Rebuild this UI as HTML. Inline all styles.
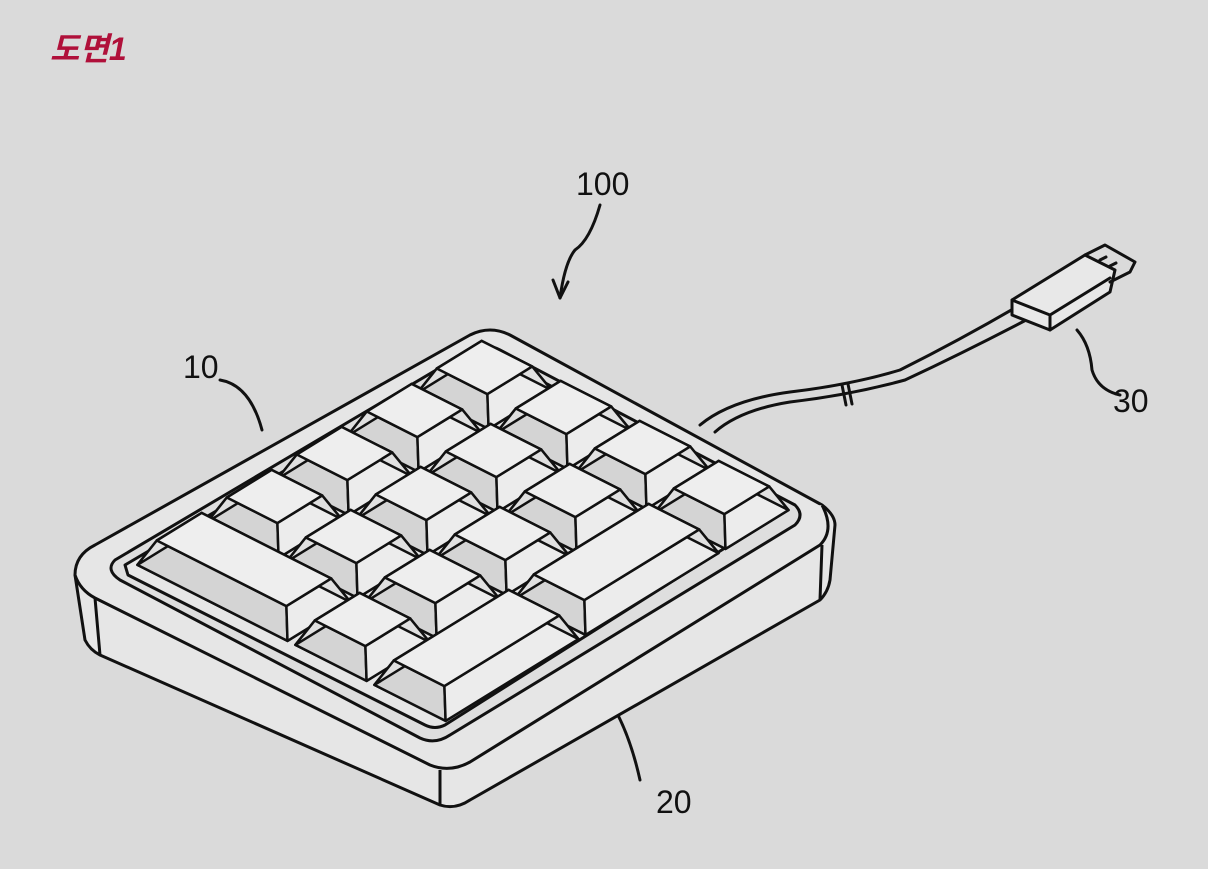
<!DOCTYPE html>
<html><head><meta charset="utf-8"><style>
html,body{margin:0;padding:0;background:#dadada;}
svg{display:block}
</style></head><body>
<svg id="s" width="1208" height="869" viewBox="0 0 1208 869" xmlns="http://www.w3.org/2000/svg">
<rect width="1208" height="869" fill="#dadada"/>
<text x="50" y="60" font-family="'Liberation Sans','Noto Sans CJK KR',sans-serif" font-size="32" font-weight="bold" font-style="italic" fill="#b0103a">도면1</text>
<g font-family="'Liberation Sans Narrow','Liberation Sans',sans-serif" font-size="32" fill="#111">
<text x="576" y="195">100</text>
<text x="183" y="378">10</text>
<text x="1113" y="412">30</text>
<text x="656" y="813">20</text>
</g>
<g fill="none" stroke="#111" stroke-width="3" stroke-linecap="round" stroke-linejoin="round">
<path d="M600 205 Q590 240 575 250 Q565 262 560 298"/>
<path d="M553 280 L560 298 L568 282"/>
<path d="M220 380 Q250 385 262 430"/>
<path d="M1077 330 Q1090 345 1092 370 Q1098 390 1120 395"/>
<path d="M570 660 Q620 690 640 780"/>
<path d="M700 425 Q730 400 790 392 Q850 385 900 370 Q960 340 1020 305"/>
<path d="M715 432 Q740 410 790 402 Q850 395 905 380 Q965 352 1030 318"/>
<path d="M842 385 L846 405 M848 384 L852 404"/>
<path d="M1012 300 L1085 255 L1115 270 L1110 292 L1050 330 L1012 315 Z" fill="#e8e8e8"/>
<path d="M1012 300 L1050 315 L1110 278 M1050 315 L1050 330"/>
<path d="M1085 255 L1105 245 L1135 262 L1130 272 L1110 282"/>
<path d="M1100 260 l6 -3 M1110 266 l6 -3"/>
</g>
<g id="kp" stroke="#111" stroke-width="3" stroke-linejoin="round" fill="#e6e6e6">
<path d="M75 575 L85 640 Q90 650 100 655 L440 805 Q455 810 470 800 L820 600 Q828 592 830 580 L835 525 Q835 515 822 505 L510 335 Q490 325 470 335 L95 545 Q75 555 75 575 Z"/>
<path d="M75 575 Q80 590 95 598 L430 765 Q450 773 470 762 L820 545 Q835 530 822 505"/>
<path d="M95 598 L100 655 M440 770 L440 805 M822 545 L820 600" />
<path d="M115 560 L470 350 Q485 342 500 350 L795 505 Q805 515 795 525 L450 735 Q435 745 420 738 L120 580 Q105 570 115 560 Z" fill="#dedede"/>
<path d="M125 565 L475 358 Q487 352 498 358 L785 510 L445 725 Q435 730 425 725 L128 575 Z"/>
</g>
<g id="keys" stroke="#111" stroke-width="2.5" stroke-linejoin="round"></g>
</svg>
<script>
var O=[130,565],U=[70,-43],V=[79,40];
function P(a,b,h){return [O[0]+a*U[0]+b*V[0],O[1]+a*U[1]+b*V[1]-(h||0)];}
var keys=[];
for(var a=1;a<5;a++)for(var b=0;b<4;b++){ if(b==3&&a<4)continue; keys.push([a,a+1,b,b+1]);}
keys.push([0,1,0,2]);keys.push([0,1,2,3]);keys.push([0,2,3,4]);keys.push([2,4,3,4]);
keys.sort(function(k,l){return (-43*(k[0]+k[1])+40*(k[2]+k[3]))-(-43*(l[0]+l[1])+40*(l[2]+l[3]));});
var g=document.getElementById('keys'),s='';
function pts(arr){return arr.map(function(p){return p[0].toFixed(1)+','+p[1].toFixed(1)}).join(' ');}
keys.forEach(function(k){
 var e=0.05,t=0.18,h=24;
 var b0=[P(k[0]+e,k[2]+e),P(k[1]-e,k[2]+e),P(k[1]-e,k[3]-e),P(k[0]+e,k[3]-e)];
 var t0=[P(k[0]+t,k[2]+t,h),P(k[1]-t,k[2]+t,h),P(k[1]-t,k[3]-t,h),P(k[0]+t,k[3]-t,h)];
 s+='<polygon points="'+pts(b0)+'" fill="#e4e4e4"/>';
 s+='<polygon points="'+pts([b0[0],b0[3],t0[3],t0[0]])+'" fill="#d4d4d4"/>';
 s+='<polygon points="'+pts([b0[3],b0[2],t0[2],t0[3]])+'" fill="#ececec"/>';
 s+='<polygon points="'+pts([b0[0],b0[1],t0[1],t0[0]])+'" fill="#e0e0e0"/>';
 s+='<polygon points="'+pts([b0[1],b0[2],t0[2],t0[1]])+'" fill="#e0e0e0"/>';
 s+='<polygon points="'+pts(t0)+'" fill="#eeeeee"/>';
});
g.innerHTML=s;
</script>
</body></html>
